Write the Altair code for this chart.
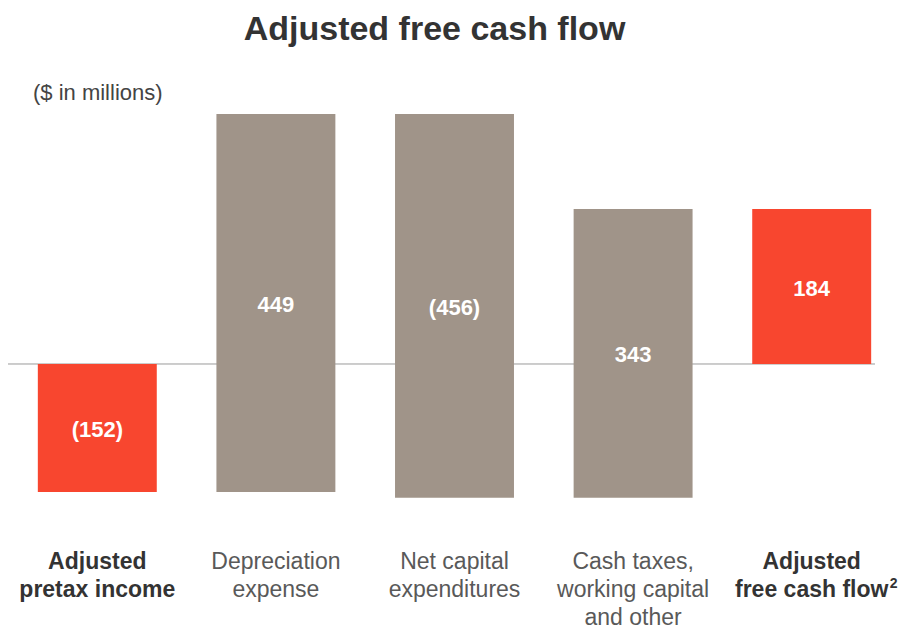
import altair as alt
import pandas as pd

# ---- data ----
categories = ["Adjusted pretax income", "Depreciation expense", "Net capital expenditures",
              "Cash taxes, working capital and other", "Adjusted free cash flow"]
label_lines = ["Adjusted\npretax income", "Depreciation\nexpense", "Net capital\nexpenditures",
               "Cash taxes,\nworking capital\nand other", "Adjusted\nfree cash flow"]
bold_flags = [True, False, False, False, True]
start_value = -152
changes = [449, -456, 343]
total_value = 184
value_labels = ["(152)", "449", "(456)", "343", "184"]
bar_kinds = ["total", "step", "step", "step", "total"]

RED = "#F8462F"
TAUPE = "#A09489"
FONT = "Liberation Sans"

# build waterfall table
starts, ends = [0], [start_value]
running = start_value
for c in changes:
    starts.append(running)
    running += c
    ends.append(running)
starts.append(0)
ends.append(total_value)

df = pd.DataFrame({
    "cat": categories,
    "start": starts,
    "end": ends,
    "label": value_labels,
    "color": [RED if k == "total" else TAUPE for k in bar_kinds],
    "lines": label_lines,
    "bold": bold_flags,
})
df["mid"] = (df["start"] + df["end"]) / 2

x_enc = alt.X("cat:N", sort=categories, axis=None,
              scale=alt.Scale(paddingInner=0.334, paddingOuter=0.167))
y_scale = alt.Scale(domain=[-173.4, 363.4], nice=False, zero=False)

base = alt.Chart(df)

rule = alt.Chart(pd.DataFrame({"v": [0]})).mark_rule(color="#9a9a9a", strokeWidth=1).encode(
    y=alt.Y("v:Q", scale=y_scale, axis=None),
    x=alt.value(-3), x2=alt.value(867))

bars = base.mark_bar().encode(
    x=x_enc,
    y=alt.Y("start:Q", scale=y_scale, axis=None),
    y2="end:Q",
    color=alt.Color("color:N", scale=None),
)

values = base.mark_text(font=FONT, fontSize=22, fontWeight="bold", color="white",
                        baseline="middle", dy=2).encode(
    x=x_enc,
    y=alt.Y("mid:Q", scale=y_scale, axis=None),
    text="label:N",
)

cat_bold = base.transform_filter("datum.bold").mark_text(
    font=FONT, fontSize=23, fontWeight="bold", color="#333333",
    lineBreak="\n", lineHeight=28, baseline="alphabetic").encode(
    x=x_enc, y=alt.value(511), text="lines:N")

cat_norm = base.transform_filter("!datum.bold").mark_text(
    font=FONT, fontSize=23, color="#595959",
    lineBreak="\n", lineHeight=28, baseline="alphabetic").encode(
    x=x_enc, y=alt.value(511), text="lines:N")

sup = base.transform_filter(f"datum.cat == '{categories[-1]}'").mark_text(
    font=FONT, fontSize=14, fontWeight="bold", color="#333333",
    align="left", baseline="alphabetic", dx=78).encode(
    x=x_enc, y=alt.value(530), text=alt.value("2"))

title = alt.Chart(pd.DataFrame({"t": ["Adjusted free cash flow"]})).mark_text(
    font=FONT, fontSize=34, fontWeight="bold", color="#333333",
    align="center", baseline="alphabetic").encode(
    x=alt.value(426.5), y=alt.value(-18), text="t:N")

subtitle = alt.Chart(pd.DataFrame({"t": ["($ in millions)"]})).mark_text(
    font=FONT, fontSize=22, color="#444444",
    align="left", baseline="alphabetic").encode(
    x=alt.value(25), y=alt.value(42), text="t:N")

chart = alt.layer(rule, bars, values, cat_bold, cat_norm, sup, title, subtitle).properties(
    width=893, height=452,
    padding={"left": 0, "top": 50, "right": 5, "bottom": 120},
    autosize=alt.AutoSizeParams(type="none"),
).configure_view(stroke=None)

chart.save("out.html", embed_options={"renderer": "svg", "actions": False})
